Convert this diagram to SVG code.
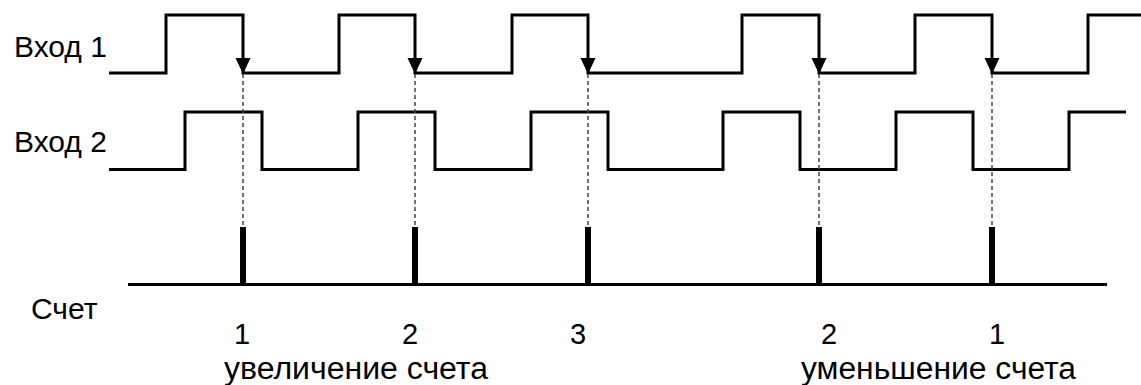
<svg xmlns="http://www.w3.org/2000/svg" width="1141" height="385" viewBox="0 0 1141 385">
<style>
.wave{fill:none;stroke:#000;stroke-width:3;stroke-linejoin:miter;stroke-linecap:butt}
.dash{stroke:#444;stroke-width:1.5;stroke-dasharray:4 3;fill:none}
.lbl{font-family:"Liberation Sans",Arial,sans-serif;font-size:30px;fill:#000}
.cap{font-family:"Liberation Sans",Arial,sans-serif;font-size:31px;fill:#000}
.num{font-family:"Liberation Sans",Arial,sans-serif;font-size:29px;fill:#000;text-anchor:middle}
.pulse{fill:#000}
</style>
<defs>
<polygon id="ah" points="-7.5,-16 7.5,-16 0,0" fill="#000"/>
</defs>
<rect width="1141" height="385" fill="#fff"/>
<g id="input1">
<text class="lbl" x="14" y="56.5">Вход 1</text>
<path class="wave" d="M109,73 H166 V15 H243 V73 H339 V15 H415 V73 H512 V15 H588 V73 H742 V15 H819 V73 H915 V15 H992 V73 H1088 V15 H1141"/>
<use href="#ah" x="243" y="74"/>
<use href="#ah" x="415" y="74"/>
<use href="#ah" x="588" y="74"/>
<use href="#ah" x="819" y="74"/>
<use href="#ah" x="992" y="74"/>
</g>
<g id="input2">
<text class="lbl" x="14" y="152">Вход 2</text>
<path class="wave" d="M109,169.5 H185 V112 H262 V169.5 H358 V112 H435 V169.5 H531 V112 H608 V169.5 H723 V112 H800 V169.5 H896 V112 H973 V169.5 H1069 V112 H1126"/>
</g>
<g id="connectors">
<line class="dash" x1="243" y1="74" x2="243" y2="227"/>
<line class="dash" x1="415" y1="74" x2="415" y2="227"/>
<line class="dash" x1="588" y1="74" x2="588" y2="227"/>
<line class="dash" x1="819" y1="74" x2="819" y2="227"/>
<line class="dash" x1="992" y1="74" x2="992" y2="227"/>
</g>
<g id="count">
<text class="lbl" x="31" y="319">Счет</text>
<line x1="128" y1="284.5" x2="1107" y2="284.5" stroke="#000" stroke-width="3"/>
<rect class="pulse" x="240" y="227" width="6" height="58"/>
<rect class="pulse" x="412" y="227" width="6" height="58"/>
<rect class="pulse" x="585" y="227" width="6" height="58"/>
<rect class="pulse" x="816" y="227" width="6" height="58"/>
<rect class="pulse" x="989" y="227" width="6" height="58"/>
</g>
<g id="numbers">
<text class="num" x="242" y="344">1</text>
<text class="num" x="410" y="344">2</text>
<text class="num" x="578" y="344">3</text>
<text class="num" x="829" y="344">2</text>
<text class="num" x="997" y="344">1</text>
</g>
<g id="captions">
<text class="cap" x="224" y="379" textLength="264" lengthAdjust="spacingAndGlyphs">увеличение счета</text>
<text class="cap" x="801" y="379" textLength="275" lengthAdjust="spacingAndGlyphs">уменьшение счета</text>
</g>
</svg>
